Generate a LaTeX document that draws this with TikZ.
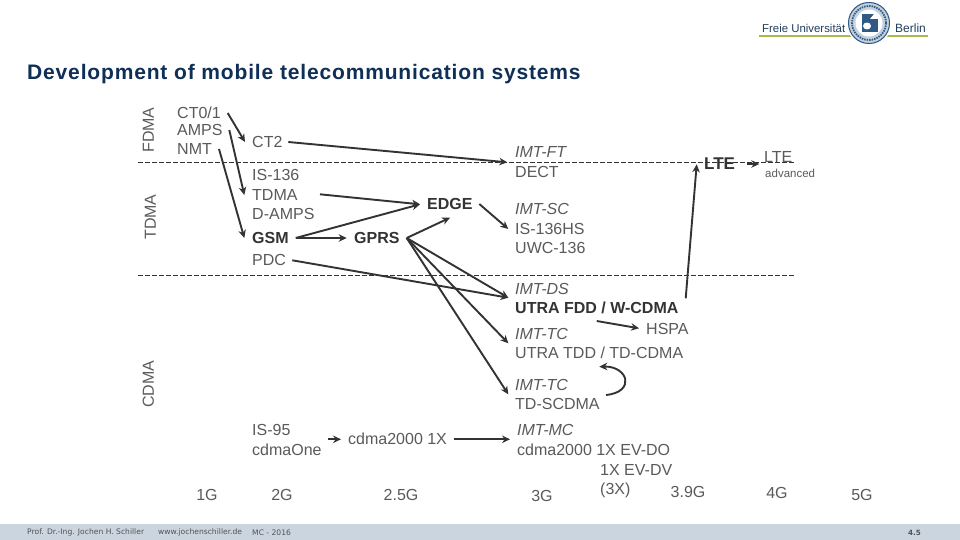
\documentclass[tikz,border=0pt]{standalone}
\usepackage{fontspec}
\setmainfont{Liberation Sans}
\newfontfamily\footfont{DejaVu Sans}
\usetikzlibrary{arrows.meta}
\definecolor{txt}{HTML}{5A5A5A}
\definecolor{bld}{HTML}{333333}
\definecolor{arrowc}{HTML}{333333}
\definecolor{barc}{HTML}{CBD5E0}
\definecolor{fugreen}{HTML}{A6BA4E}
\definecolor{funavy}{HTML}{2F5A86}
\definecolor{fublue}{HTML}{C5D0DC}
\definecolor{titlec}{HTML}{0F2F57}
\tikzset{
  lbl/.style={anchor=west,inner sep=0pt,text height=11.5pt,text depth=0pt,text=txt,font=\fontsize{16}{16}\selectfont},
  bldlbl/.style={lbl,text=bld,font=\fontsize{16}{16}\selectfont\bfseries},
  itlbl/.style={lbl,font=\fontsize{16}{16}\selectfont\itshape},
  sidelbl/.style={lbl,anchor=center,rotate=90},
  genlbl/.style={lbl,anchor=center},
  footlbl/.style={anchor=west,inner sep=0pt,text=bld!85,font=\footfont\fontsize{7.6}{8}\selectfont},
  fulbl/.style={anchor=west,inner sep=0pt,text=funavy!70!black,font=\fontsize{11.4}{12}\selectfont},
  arr/.style={draw=arrowc,line width=1.9pt,-{Stealth[length=8pt,width=7.5pt]}},
  divider/.style={draw=bld,line width=.7pt,dash pattern=on 4.5pt off 2.5pt},
}
\begin{document}
\begin{tikzpicture}[x=1pt,y=-1pt]
\useasboundingbox (0,0) rectangle (960,540);
\fill[white] (0,0) rectangle (960,540);
% footer
\fill[barc] (0,524) rectangle (960,540);
\node[footlbl] (f1) at (27,532.5) {Prof. Dr.-Ing. Jochen H. Schiller};
\node[footlbl] (f2) at (158,532.5) {www.jochenschiller.de};
\node[footlbl] (f3) at (252,532.5) {MC - 2016};
\node[footlbl,font=\footfont\fontsize{7.2}{8}\selectfont\bfseries] (f4) at (908,532.5) {4.5};
% logo
\draw[fugreen,line width=2pt] (759,36) -- (928,36);
\node[fulbl] (fu1) at (762,28) {Freie Universität};
\node[fulbl,font=\fontsize{12}{12}\selectfont] (fu2) at (895,28) {Berlin};
\fill[white] (869,23) circle (22.5);
\fill[fublue] (869,23) circle (21);
\draw[funavy,line width=1pt] (869,23) circle (20.5);
\draw[funavy,line width=1.8pt,dash pattern=on 1.5pt off 1pt] (869,23) circle (17);
\fill[white] (869,23) circle (13.5);
\fill[funavy] (862,14) rectangle (878,32);
\fill[white] (870,19) -- (878,19) -- (878,14) -- (874,14) -- cycle;
\fill[white] (867,26) ellipse (4 and 3.5);
% title
\node[anchor=west,inner sep=0pt,text height=15pt,text depth=0pt,text=titlec,font=\fontsize{21}{22}\selectfont\bfseries\addfontfeatures{LetterSpace=4}] (title) at (27,72.5) {Development of mobile telecommunication systems};
% dividers
\coordinate (d1a) at (138,162); \coordinate (d1b) at (795,162);
\coordinate (d2a) at (138,275); \coordinate (d2b) at (795,275);
\draw[divider] (d1a) -- (d1b);
\draw[divider] (d2a) -- (d2b);
% side labels
\node[sidelbl] (fdma) at (148,130) {FDMA};
\node[sidelbl] (tdmaS) at (150,217) {TDMA};
\node[sidelbl] (cdmaS) at (148,384) {CDMA};
% 1G
\node[lbl] (ct01) at (177,113) {CT0/1};
\node[lbl] (amps) at (177,130) {AMPS};
\node[lbl] (nmt) at (177,149) {NMT};
% 2G
\node[lbl] (ct2) at (252,142) {CT2};
\node[lbl] (is136) at (252,175) {IS-136};
\node[lbl] (tdma) at (252,195) {TDMA};
\node[lbl] (damps) at (252,214) {D-AMPS};
\node[bldlbl] (gsm) at (252,238) {GSM};
\node[lbl] (pdc) at (252,260) {PDC};
\node[lbl] (is95) at (252,430) {IS-95};
\node[lbl] (cdmaone) at (252,450) {cdmaOne};
% 2.5G
\node[bldlbl] (edge) at (427,204) {EDGE};
\node[bldlbl] (gprs) at (354,238) {GPRS};
\node[lbl] (cdma1x) at (348,439) {cdma2000 1X};
% 3G
\node[itlbl] (imtft) at (515,152) {IMT-FT};
\node[lbl] (dect) at (515,172) {DECT};
\node[itlbl] (imtsc) at (515,209) {IMT-SC};
\node[lbl] (is136hs) at (515,229) {IS-136HS};
\node[lbl] (uwc) at (515,248) {UWC-136};
\node[itlbl] (imtds) at (515,289) {IMT-DS};
\node[bldlbl] (utrafdd) at (515,308) {UTRA FDD / W-CDMA};
\node[lbl] (hspa) at (646,329) {HSPA};
\node[itlbl] (imttc) at (515,334) {IMT-TC};
\node[lbl] (utratdd) at (515,353) {UTRA TDD / TD-CDMA};
\node[itlbl] (imttcb) at (515,385) {IMT-TC};
\node[lbl] (tdscdma) at (515,404) {TD-SCDMA};
\node[itlbl] (imtmc) at (517,430) {IMT-MC};
\node[lbl] (evdo) at (517,450) {cdma2000 1X EV-DO};
\node[lbl] (evdv) at (600,470) {1X EV-DV};
\node[lbl] (x3) at (600,489) {(3X)};
% LTE
\node[bldlbl,font=\fontsize{17}{17}\selectfont\bfseries] (lte) at (704,164) {LTE};
\node[lbl] (lteadv) at (764,157) {LTE};
\node[lbl,text height=8pt,font=\fontsize{11.5}{12}\selectfont] (adv) at (765,174) {advanced};
% generations
\node[genlbl] (g1) at (207,495) {1G};
\node[genlbl] (g2) at (282,495) {2G};
\node[genlbl] (g25) at (401,495) {2.5G};
\node[genlbl] (g3) at (542,496) {3G};
\node[genlbl] (g39) at (688,492) {3.9G};
\node[genlbl] (g4) at (777,493) {4G};
\node[genlbl] (g5) at (862,495) {5G};
% connectors
\draw[arr] ([shift={(50.7,0)}]ct01.west) -- ([shift={(-7,0)}]ct2.west);
\draw[arr] ([shift={(52.3,0)}]amps.west) -- ([shift={(-7.7,0)}]tdma.west);
\draw[arr] ([shift={(42,0)}]nmt.west) -- ([shift={(-7.7,0)}]gsm.west);
\draw[arr] ([shift={(36.3,0)}]ct2.west) -- ([shift={(-7.7,10.3)}]imtft.west);
\draw[arr] ([shift={(68,-0.7)}]tdma.west) -- ([shift={(-7,0.3)}]edge.west);
\draw[arr] ([shift={(43.7,0)}]gsm.west) -- ([shift={(-7,0.3)}]edge.west);
\draw[arr] ([shift={(43.7,0)}]gsm.west) -- ([shift={(-7.3,0)}]gprs.west);
\draw[arr] ([shift={(52.7,0)}]gprs.west) -- ([shift={(23,13.7)}]edge.west);
\draw[arr] ([shift={(52.3,0)}]edge.west) -- ([shift={(-6.7,0)}]is136hs.west);
\draw[arr] ([shift={(52.7,0)}]gprs.west) -- ([shift={(-6.7,8.7)}]imtds.west);
\draw[arr] ([shift={(52.7,0)}]gprs.west) -- ([shift={(-6.7,9.3)}]imttc.west);
\draw[arr] ([shift={(52.7,0)}]gprs.west) -- ([shift={(-6.7,9.3)}]imttcb.west);
\draw[arr] ([shift={(40.3,0.3)}]pdc.west) -- ([shift={(-6.7,8.7)}]imtds.west);
\draw[arr] ([shift={(170.7,-9.7)}]utrafdd.west) -- ([shift={(-7.3,0.3)}]lte.west);
\draw[arr] ([shift={(42.7,0)}]lte.west) -- ([shift={(-4.7,7)}]lteadv.west);
\draw[arr] ([shift={(81.7,13)}]utrafdd.west) -- ([shift={(-7,-0.7)}]hspa.west);
\draw[arr] ([shift={(91,-9)}]tdscdma.west) .. controls ([shift={(121,-12)}]tdscdma.west) and ([shift={(113,13)}]utratdd.west) .. ([shift={(84.3,13.7)}]utratdd.west);
\draw[arr] ([shift={(76.3,9.3)}]is95.west) -- ([shift={(-7,0.3)}]cdma1x.west);
\draw[arr] ([shift={(106,0.3)}]cdma1x.west) -- ([shift={(-7,9.3)}]imtmc.west);
\end{tikzpicture}
\end{document}
